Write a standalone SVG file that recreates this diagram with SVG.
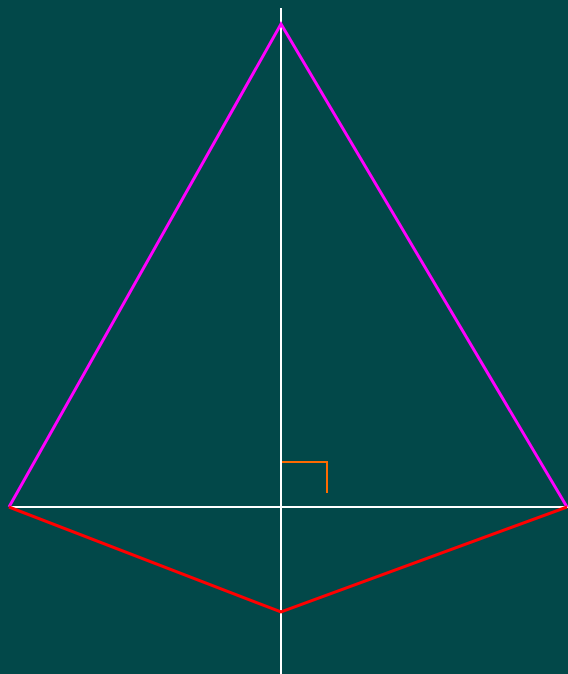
<svg xmlns="http://www.w3.org/2000/svg" width="568" height="674" viewBox="0 0 568 674">
<style>
.axis{stroke:#ffffff;stroke-width:2;fill:none}
.tri{stroke:#ff00ff;stroke-width:3;fill:none;stroke-linejoin:miter}
.kite{stroke:#ff0000;stroke-width:3;fill:none}
.mark{stroke:#ff6a00;stroke-width:2;fill:none}
</style>
<rect x="0" y="0" width="568" height="674" fill="#024849"/>
<g id="connectors">
<line class="axis" x1="281" y1="8" x2="281" y2="674"/>
<line class="axis" x1="9" y1="507" x2="568" y2="507"/>
<polyline class="tri" points="9,507 281,24 567,507"/>
<polyline class="kite" points="9,507 281,612 567,507"/>
<polyline class="mark" points="282,462 327,462 327,493"/>
</g>
</svg>
